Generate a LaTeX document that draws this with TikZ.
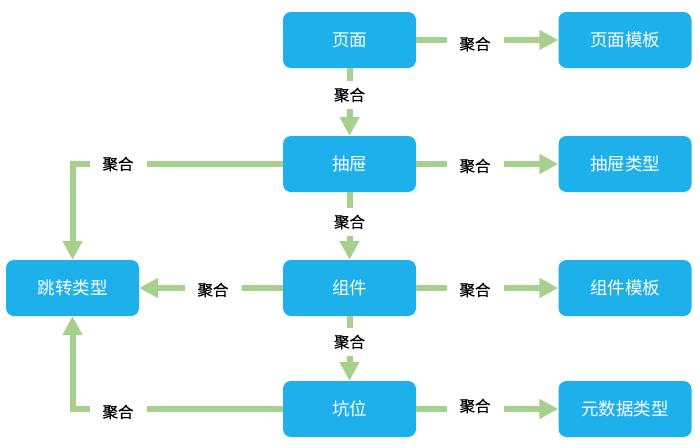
\documentclass[tikz,border=0pt]{standalone}
\usepackage{fontspec}
\setmainfont{Noto Sans CJK SC}
\newfontfamily\lblfont[FakeBold=0.6]{Noto Sans CJK SC}
\usetikzlibrary{arrows.meta}
\definecolor{boxblue}{RGB}{29,176,235}
\definecolor{arrgreen}{RGB}{168,208,141}
\tikzset{
  box/.style={draw=none, fill=boxblue, rounded corners=8pt, minimum width=133pt, minimum height=56pt,
    text=white, font=\fontsize{17.5}{17.5}\selectfont, inner sep=0pt},
  conn/.style={draw=arrgreen, line width=6pt, -{Triangle[width=19pt,length=19pt]}},
  lbl/.style={fill=white, inner xsep=13pt, inner ysep=7pt, text=black, font=\lblfont\fontsize{15.5}{15.5}\selectfont}
}
\begin{document}
\begin{tikzpicture}[x=1pt,y=-1pt]
\useasboundingbox (0,0) rectangle (700,447);
% nodes
\node[box] (page) at (349.5,40) {页面};
\node[box] (pagetpl) at (625,40) {页面模板};
\node[box] (drawer) at (349.5,164) {抽屉};
\node[box] (drawertype) at (625,164) {抽屉类型};
\node[box] (jump) at (72.5,288) {跳转类型};
\node[box] (comp) at (349.5,288) {组件};
\node[box] (comptpl) at (625,288) {组件模板};
\node[box] (slot) at (349.5,409) {坑位};
\node[box] (meta) at (625,409) {元数据类型};
% connectors
\draw[conn] (page) -- (pagetpl);
\draw[conn] (drawer) -- (drawertype);
\draw[conn] (comp) -- (comptpl);
\draw[conn] (slot) -- (meta);
\draw[conn] (page) -- (drawer);
\draw[conn] (drawer) -- (comp);
\draw[conn] (comp) -- (slot);
\draw[conn] (comp) -- (jump);
\draw[conn] (drawer.west) -| (jump.north);
\draw[conn] (slot.west) -| (jump.south);
% labels
\node[lbl] at (475,44) {聚合};
\node[lbl] at (475,166) {聚合};
\node[lbl] at (475,290) {聚合};
\node[lbl] at (475,406) {聚合};
\node[lbl] at (349.5,95) {聚合};
\node[lbl] at (349.5,222) {聚合};
\node[lbl] at (349.5,342) {聚合};
\node[lbl] at (213,290) {聚合};
\node[lbl] at (118,164) {聚合};
\node[lbl] at (118,412) {聚合};
\end{tikzpicture}
\end{document}
